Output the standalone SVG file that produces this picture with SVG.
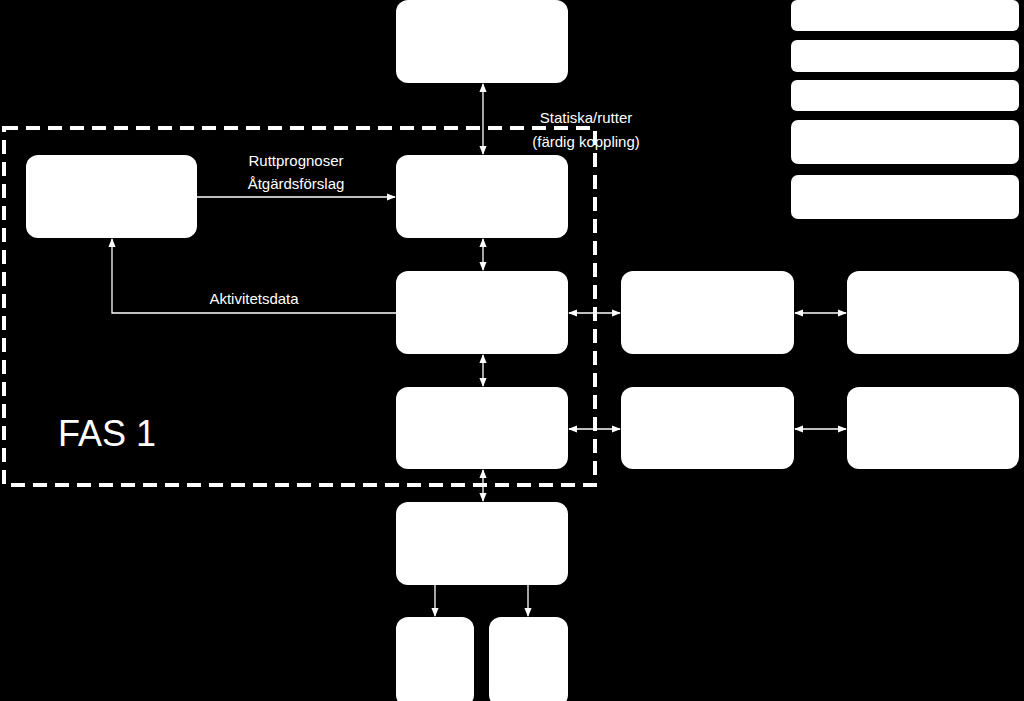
<svg xmlns="http://www.w3.org/2000/svg" width="1024" height="701" viewBox="0 0 1024 701">
<defs>
<marker id="ah" viewBox="0 0 10 10" refX="9" refY="5" markerWidth="7" markerHeight="7" orient="auto-start-reverse"><path d="M0,1 L10,5 L0,9 z" fill="#fff"/></marker>
<style>
.b{fill:#fff}
.c{stroke:#fff;stroke-width:1.3;fill:none}
.t{font-family:"Liberation Sans",Arial,sans-serif;font-size:15px;fill:#fff;text-anchor:middle}
</style>
</defs>
<rect width="1024" height="701" fill="#000"/>
<rect x="4" y="128" width="591" height="357" fill="none" stroke="#fff" stroke-width="4" stroke-dasharray="14,8"/>
<g id="top"><rect class="b" x="396" y="0" width="172" height="83" rx="12"/></g>
<g id="list1"><rect class="b" x="791" y="0" width="228" height="31" rx="6"/></g>
<g id="list2"><rect class="b" x="791" y="40" width="228" height="32" rx="6"/></g>
<g id="list3"><rect class="b" x="791" y="80" width="228" height="31" rx="6"/></g>
<g id="list4"><rect class="b" x="791" y="120" width="228" height="44" rx="7"/></g>
<g id="list5"><rect class="b" x="791" y="175" width="228" height="44" rx="7"/></g>
<g id="left"><rect class="b" x="26" y="155" width="171" height="83" rx="12"/></g>
<g id="a"><rect class="b" x="396" y="155" width="172" height="83" rx="12"/></g>
<g id="bx"><rect class="b" x="396" y="271" width="172" height="83" rx="12"/></g>
<g id="b1"><rect class="b" x="621" y="271" width="173" height="83" rx="12"/></g>
<g id="b2"><rect class="b" x="847" y="271" width="172" height="83" rx="12"/></g>
<g id="cx"><rect class="b" x="396" y="387" width="172" height="82" rx="12"/></g>
<g id="c1"><rect class="b" x="621" y="387" width="173" height="82" rx="12"/></g>
<g id="c2"><rect class="b" x="847" y="387" width="172" height="82" rx="12"/></g>
<g id="d"><rect class="b" x="396" y="502" width="172" height="83" rx="12"/></g>
<g id="s1"><rect class="b" x="396" y="617" width="78" height="90" rx="12"/></g>
<g id="s2"><rect class="b" x="489" y="617" width="79" height="90" rx="12"/></g>
<g id="connectors">
<line class="c" x1="483" y1="84" x2="483" y2="154" marker-start="url(#ah)" marker-end="url(#ah)"/>
<line class="c" x1="483" y1="239" x2="483" y2="270" marker-start="url(#ah)" marker-end="url(#ah)"/>
<line class="c" x1="483" y1="355" x2="483" y2="386" marker-start="url(#ah)" marker-end="url(#ah)"/>
<line class="c" x1="483" y1="470" x2="483" y2="501" marker-start="url(#ah)" marker-end="url(#ah)"/>
<line class="c" x1="197" y1="197" x2="395" y2="197" marker-end="url(#ah)"/>
<polyline class="c" points="396,313 112,313 112,239" marker-end="url(#ah)"/>
<line class="c" x1="569" y1="313" x2="620" y2="313" marker-start="url(#ah)" marker-end="url(#ah)"/>
<line class="c" x1="795" y1="313" x2="846" y2="313" marker-start="url(#ah)" marker-end="url(#ah)"/>
<line class="c" x1="569" y1="429" x2="620" y2="429" marker-start="url(#ah)" marker-end="url(#ah)"/>
<line class="c" x1="795" y1="429" x2="846" y2="429" marker-start="url(#ah)" marker-end="url(#ah)"/>
<line class="c" x1="435" y1="585" x2="435" y2="616" marker-end="url(#ah)"/>
<line class="c" x1="528" y1="585" x2="528" y2="616" marker-end="url(#ah)"/>
</g>
<text class="t" x="586" y="123">Statiska/rutter</text>
<text class="t" x="586" y="147">(färdig koppling)</text>
<text class="t" x="296" y="166">Ruttprognoser</text>
<text class="t" x="296" y="189">Åtgärdsförslag</text>
<text class="t" x="254" y="304">Aktivitetsdata</text>
<text x="58" y="446" style="font-family:'Liberation Sans',Arial,sans-serif;font-size:36px;fill:#fff">FAS 1</text>
</svg>
